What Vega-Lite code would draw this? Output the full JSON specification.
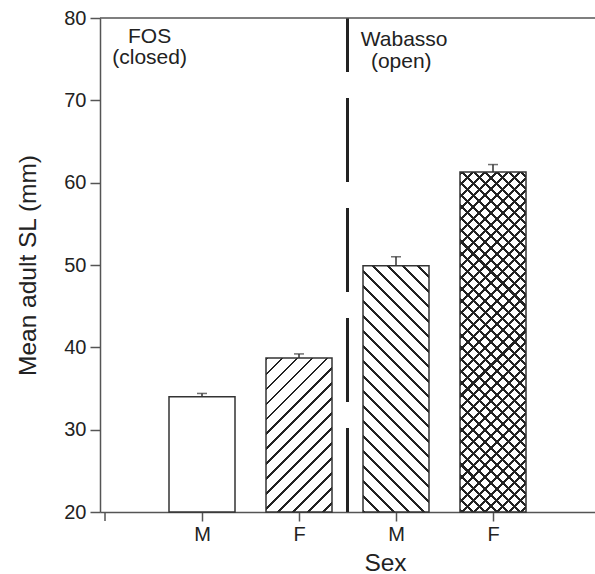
{
  "$schema": "https://vega.github.io/schema/vega-lite/v6.json",
  "width": 495,
  "height": 494,
  "autosize": {"type": "none"},
  "padding": {"left": 100, "top": 18, "right": 0, "bottom": 62},
  "config": {
    "view": {"stroke": null},
    "font": "Liberation Sans",
    "axis": {"titleFontWeight": "normal", "labelColor": "#222", "titleColor": "#222", "grid": false, "domainColor": "#555", "tickColor": "#555", "domainWidth": 1.5, "tickWidth": 1.5}
  },
  "data": {"values": [
    {"site": "FOS", "sex": "M", "idx": 1, "mean": 34.0, "upper": 34.4},
    {"site": "FOS", "sex": "F", "idx": 2, "mean": 38.7, "upper": 39.2},
    {"site": "Wabasso", "sex": "M", "idx": 3, "mean": 49.9, "upper": 51.0},
    {"site": "Wabasso", "sex": "F", "idx": 4, "mean": 61.3, "upper": 62.2}
  ]},
  "layer": [
    {
      "transform": [{"filter": "datum.idx == 1"}],
      "mark": {"type": "bar", "width": 66, "fill": "#fff", "stroke": "#333", "strokeWidth": 1.5},
      "encoding": {
        "x": {"field": "idx", "type": "quantitative", "scale": {"domain": [0, 5], "nice": false, "zero": false},
          "axis": {"values": [1, 2, 3, 4], "labelExpr": "datum.value == 1 || datum.value == 3 ? 'M' : 'F'", "tickSize": 9, "labelFontSize": 20, "labelPadding": 3, "title": "Sex", "titleFontSize": 24.5, "titleX": 285, "titlePadding": 7}},
        "y": {"field": "mean", "type": "quantitative", "scale": {"domain": [20, 80], "nice": false, "zero": false},
          "axis": {"values": [20, 30, 40, 50, 60, 70, 80], "tickSize": 10, "labelFontSize": 20, "labelPadding": 4, "title": "Mean adult SL (mm)", "titleFontSize": 24.5, "titlePadding": 23}},
        "y2": {"datum": 20}
      }
    },
    {
      "transform": [{"filter": "datum.idx == 2"}],
      "mark": {"type": "bar", "width": 66, "stroke": "#333", "strokeWidth": 1.5,
        "fill": {"gradient": "linear", "x1": 0, "y1": 0, "x2": 0.7052, "y2": 1.6451, "stops": [
          {"offset": 0, "color": "#222"}, {"offset": 0.007, "color": "#222"}, {"offset": 0.007, "color": "#fff"}, {"offset": 0.05, "color": "#fff"},
          {"offset": 0.05, "color": "#222"}, {"offset": 0.057, "color": "#222"}, {"offset": 0.057, "color": "#fff"}, {"offset": 0.1, "color": "#fff"},
          {"offset": 0.1, "color": "#222"}, {"offset": 0.107, "color": "#222"}, {"offset": 0.107, "color": "#fff"}, {"offset": 0.15, "color": "#fff"},
          {"offset": 0.15, "color": "#222"}, {"offset": 0.157, "color": "#222"}, {"offset": 0.157, "color": "#fff"}, {"offset": 0.2, "color": "#fff"},
          {"offset": 0.2, "color": "#222"}, {"offset": 0.207, "color": "#222"}, {"offset": 0.207, "color": "#fff"}, {"offset": 0.25, "color": "#fff"},
          {"offset": 0.25, "color": "#222"}, {"offset": 0.257, "color": "#222"}, {"offset": 0.257, "color": "#fff"}, {"offset": 0.3, "color": "#fff"},
          {"offset": 0.3, "color": "#222"}, {"offset": 0.307, "color": "#222"}, {"offset": 0.307, "color": "#fff"}, {"offset": 0.35, "color": "#fff"},
          {"offset": 0.35, "color": "#222"}, {"offset": 0.357, "color": "#222"}, {"offset": 0.357, "color": "#fff"}, {"offset": 0.4, "color": "#fff"},
          {"offset": 0.4, "color": "#222"}, {"offset": 0.407, "color": "#222"}, {"offset": 0.407, "color": "#fff"}, {"offset": 0.45, "color": "#fff"},
          {"offset": 0.45, "color": "#222"}, {"offset": 0.457, "color": "#222"}, {"offset": 0.457, "color": "#fff"}, {"offset": 0.5, "color": "#fff"},
          {"offset": 0.5, "color": "#222"}, {"offset": 0.507, "color": "#222"}, {"offset": 0.507, "color": "#fff"}, {"offset": 0.55, "color": "#fff"},
          {"offset": 0.55, "color": "#222"}, {"offset": 0.557, "color": "#222"}, {"offset": 0.557, "color": "#fff"}, {"offset": 0.6, "color": "#fff"},
          {"offset": 0.6, "color": "#222"}, {"offset": 0.607, "color": "#222"}, {"offset": 0.607, "color": "#fff"}, {"offset": 0.65, "color": "#fff"},
          {"offset": 0.65, "color": "#222"}, {"offset": 0.657, "color": "#222"}, {"offset": 0.657, "color": "#fff"}, {"offset": 0.7, "color": "#fff"},
          {"offset": 0.7, "color": "#222"}, {"offset": 0.707, "color": "#222"}, {"offset": 0.707, "color": "#fff"}, {"offset": 0.75, "color": "#fff"},
          {"offset": 0.75, "color": "#222"}, {"offset": 0.757, "color": "#222"}, {"offset": 0.757, "color": "#fff"}, {"offset": 0.8, "color": "#fff"},
          {"offset": 0.8, "color": "#222"}, {"offset": 0.807, "color": "#222"}, {"offset": 0.807, "color": "#fff"}, {"offset": 0.85, "color": "#fff"},
          {"offset": 0.85, "color": "#222"}, {"offset": 0.857, "color": "#222"}, {"offset": 0.857, "color": "#fff"}, {"offset": 0.9, "color": "#fff"},
          {"offset": 0.9, "color": "#222"}, {"offset": 0.907, "color": "#222"}, {"offset": 0.907, "color": "#fff"}, {"offset": 0.95, "color": "#fff"},
          {"offset": 0.95, "color": "#222"}, {"offset": 0.957, "color": "#222"}, {"offset": 0.957, "color": "#fff"}, {"offset": 1, "color": "#fff"}
        ]}},
      "encoding": {
        "x": {"field": "idx", "type": "quantitative"},
        "y": {"field": "mean", "type": "quantitative"},
        "y2": {"datum": 20}
      }
    },
    {
      "transform": [{"filter": "datum.idx == 3"}],
      "mark": {"type": "bar", "width": 66, "stroke": "#333", "strokeWidth": 1.5,
        "fill": {"gradient": "linear", "x1": 0, "y1": 1, "x2": 0.3808, "y2": -0.4202, "stops": [
          {"offset": 0, "color": "#222"}, {"offset": 0.006, "color": "#222"}, {"offset": 0.006, "color": "#fff"}, {"offset": 0.04, "color": "#fff"},
          {"offset": 0.04, "color": "#222"}, {"offset": 0.046, "color": "#222"}, {"offset": 0.046, "color": "#fff"}, {"offset": 0.08, "color": "#fff"},
          {"offset": 0.08, "color": "#222"}, {"offset": 0.086, "color": "#222"}, {"offset": 0.086, "color": "#fff"}, {"offset": 0.12, "color": "#fff"},
          {"offset": 0.12, "color": "#222"}, {"offset": 0.126, "color": "#222"}, {"offset": 0.126, "color": "#fff"}, {"offset": 0.16, "color": "#fff"},
          {"offset": 0.16, "color": "#222"}, {"offset": 0.166, "color": "#222"}, {"offset": 0.166, "color": "#fff"}, {"offset": 0.2, "color": "#fff"},
          {"offset": 0.2, "color": "#222"}, {"offset": 0.206, "color": "#222"}, {"offset": 0.206, "color": "#fff"}, {"offset": 0.24, "color": "#fff"},
          {"offset": 0.24, "color": "#222"}, {"offset": 0.246, "color": "#222"}, {"offset": 0.246, "color": "#fff"}, {"offset": 0.28, "color": "#fff"},
          {"offset": 0.28, "color": "#222"}, {"offset": 0.286, "color": "#222"}, {"offset": 0.286, "color": "#fff"}, {"offset": 0.32, "color": "#fff"},
          {"offset": 0.32, "color": "#222"}, {"offset": 0.326, "color": "#222"}, {"offset": 0.326, "color": "#fff"}, {"offset": 0.36, "color": "#fff"},
          {"offset": 0.36, "color": "#222"}, {"offset": 0.366, "color": "#222"}, {"offset": 0.366, "color": "#fff"}, {"offset": 0.4, "color": "#fff"},
          {"offset": 0.4, "color": "#222"}, {"offset": 0.406, "color": "#222"}, {"offset": 0.406, "color": "#fff"}, {"offset": 0.44, "color": "#fff"},
          {"offset": 0.44, "color": "#222"}, {"offset": 0.446, "color": "#222"}, {"offset": 0.446, "color": "#fff"}, {"offset": 0.48, "color": "#fff"},
          {"offset": 0.48, "color": "#222"}, {"offset": 0.486, "color": "#222"}, {"offset": 0.486, "color": "#fff"}, {"offset": 0.52, "color": "#fff"},
          {"offset": 0.52, "color": "#222"}, {"offset": 0.526, "color": "#222"}, {"offset": 0.526, "color": "#fff"}, {"offset": 0.56, "color": "#fff"},
          {"offset": 0.56, "color": "#222"}, {"offset": 0.566, "color": "#222"}, {"offset": 0.566, "color": "#fff"}, {"offset": 0.6, "color": "#fff"},
          {"offset": 0.6, "color": "#222"}, {"offset": 0.606, "color": "#222"}, {"offset": 0.606, "color": "#fff"}, {"offset": 0.64, "color": "#fff"},
          {"offset": 0.64, "color": "#222"}, {"offset": 0.646, "color": "#222"}, {"offset": 0.646, "color": "#fff"}, {"offset": 0.68, "color": "#fff"},
          {"offset": 0.68, "color": "#222"}, {"offset": 0.686, "color": "#222"}, {"offset": 0.686, "color": "#fff"}, {"offset": 0.72, "color": "#fff"},
          {"offset": 0.72, "color": "#222"}, {"offset": 0.726, "color": "#222"}, {"offset": 0.726, "color": "#fff"}, {"offset": 0.76, "color": "#fff"},
          {"offset": 0.76, "color": "#222"}, {"offset": 0.766, "color": "#222"}, {"offset": 0.766, "color": "#fff"}, {"offset": 0.8, "color": "#fff"},
          {"offset": 0.8, "color": "#222"}, {"offset": 0.806, "color": "#222"}, {"offset": 0.806, "color": "#fff"}, {"offset": 0.84, "color": "#fff"},
          {"offset": 0.84, "color": "#222"}, {"offset": 0.846, "color": "#222"}, {"offset": 0.846, "color": "#fff"}, {"offset": 0.88, "color": "#fff"},
          {"offset": 0.88, "color": "#222"}, {"offset": 0.886, "color": "#222"}, {"offset": 0.886, "color": "#fff"}, {"offset": 0.92, "color": "#fff"},
          {"offset": 0.92, "color": "#222"}, {"offset": 0.926, "color": "#222"}, {"offset": 0.926, "color": "#fff"}, {"offset": 0.96, "color": "#fff"},
          {"offset": 0.96, "color": "#222"}, {"offset": 0.966, "color": "#222"}, {"offset": 0.966, "color": "#fff"}, {"offset": 1, "color": "#fff"}
        ]}},
      "encoding": {
        "x": {"field": "idx", "type": "quantitative"},
        "y": {"field": "mean", "type": "quantitative"},
        "y2": {"datum": 20}
      }
    },
    {
      "transform": [{"filter": "datum.idx == 4"}],
      "mark": {"type": "bar", "width": 66, "strokeWidth": 0,
        "fill": {"gradient": "linear", "x1": 0, "y1": 0, "x2": 0.2583, "y2": 1.3306, "stops": [
          {"offset": 0, "color": "#222"}, {"offset": 0.0065, "color": "#222"}, {"offset": 0.0065, "color": "#fff"}, {"offset": 0.025, "color": "#fff"},
          {"offset": 0.025, "color": "#222"}, {"offset": 0.0315, "color": "#222"}, {"offset": 0.0315, "color": "#fff"}, {"offset": 0.05, "color": "#fff"},
          {"offset": 0.05, "color": "#222"}, {"offset": 0.0565, "color": "#222"}, {"offset": 0.0565, "color": "#fff"}, {"offset": 0.075, "color": "#fff"},
          {"offset": 0.075, "color": "#222"}, {"offset": 0.0815, "color": "#222"}, {"offset": 0.0815, "color": "#fff"}, {"offset": 0.1, "color": "#fff"},
          {"offset": 0.1, "color": "#222"}, {"offset": 0.1065, "color": "#222"}, {"offset": 0.1065, "color": "#fff"}, {"offset": 0.125, "color": "#fff"},
          {"offset": 0.125, "color": "#222"}, {"offset": 0.1315, "color": "#222"}, {"offset": 0.1315, "color": "#fff"}, {"offset": 0.15, "color": "#fff"},
          {"offset": 0.15, "color": "#222"}, {"offset": 0.1565, "color": "#222"}, {"offset": 0.1565, "color": "#fff"}, {"offset": 0.175, "color": "#fff"},
          {"offset": 0.175, "color": "#222"}, {"offset": 0.1815, "color": "#222"}, {"offset": 0.1815, "color": "#fff"}, {"offset": 0.2, "color": "#fff"},
          {"offset": 0.2, "color": "#222"}, {"offset": 0.2065, "color": "#222"}, {"offset": 0.2065, "color": "#fff"}, {"offset": 0.225, "color": "#fff"},
          {"offset": 0.225, "color": "#222"}, {"offset": 0.2315, "color": "#222"}, {"offset": 0.2315, "color": "#fff"}, {"offset": 0.25, "color": "#fff"},
          {"offset": 0.25, "color": "#222"}, {"offset": 0.2565, "color": "#222"}, {"offset": 0.2565, "color": "#fff"}, {"offset": 0.275, "color": "#fff"},
          {"offset": 0.275, "color": "#222"}, {"offset": 0.2815, "color": "#222"}, {"offset": 0.2815, "color": "#fff"}, {"offset": 0.3, "color": "#fff"},
          {"offset": 0.3, "color": "#222"}, {"offset": 0.3065, "color": "#222"}, {"offset": 0.3065, "color": "#fff"}, {"offset": 0.325, "color": "#fff"},
          {"offset": 0.325, "color": "#222"}, {"offset": 0.3315, "color": "#222"}, {"offset": 0.3315, "color": "#fff"}, {"offset": 0.35, "color": "#fff"},
          {"offset": 0.35, "color": "#222"}, {"offset": 0.3565, "color": "#222"}, {"offset": 0.3565, "color": "#fff"}, {"offset": 0.375, "color": "#fff"},
          {"offset": 0.375, "color": "#222"}, {"offset": 0.3815, "color": "#222"}, {"offset": 0.3815, "color": "#fff"}, {"offset": 0.4, "color": "#fff"},
          {"offset": 0.4, "color": "#222"}, {"offset": 0.4065, "color": "#222"}, {"offset": 0.4065, "color": "#fff"}, {"offset": 0.425, "color": "#fff"},
          {"offset": 0.425, "color": "#222"}, {"offset": 0.4315, "color": "#222"}, {"offset": 0.4315, "color": "#fff"}, {"offset": 0.45, "color": "#fff"},
          {"offset": 0.45, "color": "#222"}, {"offset": 0.4565, "color": "#222"}, {"offset": 0.4565, "color": "#fff"}, {"offset": 0.475, "color": "#fff"},
          {"offset": 0.475, "color": "#222"}, {"offset": 0.4815, "color": "#222"}, {"offset": 0.4815, "color": "#fff"}, {"offset": 0.5, "color": "#fff"},
          {"offset": 0.5, "color": "#222"}, {"offset": 0.5065, "color": "#222"}, {"offset": 0.5065, "color": "#fff"}, {"offset": 0.525, "color": "#fff"},
          {"offset": 0.525, "color": "#222"}, {"offset": 0.5315, "color": "#222"}, {"offset": 0.5315, "color": "#fff"}, {"offset": 0.55, "color": "#fff"},
          {"offset": 0.55, "color": "#222"}, {"offset": 0.5565, "color": "#222"}, {"offset": 0.5565, "color": "#fff"}, {"offset": 0.575, "color": "#fff"},
          {"offset": 0.575, "color": "#222"}, {"offset": 0.5815, "color": "#222"}, {"offset": 0.5815, "color": "#fff"}, {"offset": 0.6, "color": "#fff"},
          {"offset": 0.6, "color": "#222"}, {"offset": 0.6065, "color": "#222"}, {"offset": 0.6065, "color": "#fff"}, {"offset": 0.625, "color": "#fff"},
          {"offset": 0.625, "color": "#222"}, {"offset": 0.6315, "color": "#222"}, {"offset": 0.6315, "color": "#fff"}, {"offset": 0.65, "color": "#fff"},
          {"offset": 0.65, "color": "#222"}, {"offset": 0.6565, "color": "#222"}, {"offset": 0.6565, "color": "#fff"}, {"offset": 0.675, "color": "#fff"},
          {"offset": 0.675, "color": "#222"}, {"offset": 0.6815, "color": "#222"}, {"offset": 0.6815, "color": "#fff"}, {"offset": 0.7, "color": "#fff"},
          {"offset": 0.7, "color": "#222"}, {"offset": 0.7065, "color": "#222"}, {"offset": 0.7065, "color": "#fff"}, {"offset": 0.725, "color": "#fff"},
          {"offset": 0.725, "color": "#222"}, {"offset": 0.7315, "color": "#222"}, {"offset": 0.7315, "color": "#fff"}, {"offset": 0.75, "color": "#fff"},
          {"offset": 0.75, "color": "#222"}, {"offset": 0.7565, "color": "#222"}, {"offset": 0.7565, "color": "#fff"}, {"offset": 0.775, "color": "#fff"},
          {"offset": 0.775, "color": "#222"}, {"offset": 0.7815, "color": "#222"}, {"offset": 0.7815, "color": "#fff"}, {"offset": 0.8, "color": "#fff"},
          {"offset": 0.8, "color": "#222"}, {"offset": 0.8065, "color": "#222"}, {"offset": 0.8065, "color": "#fff"}, {"offset": 0.825, "color": "#fff"},
          {"offset": 0.825, "color": "#222"}, {"offset": 0.8315, "color": "#222"}, {"offset": 0.8315, "color": "#fff"}, {"offset": 0.85, "color": "#fff"},
          {"offset": 0.85, "color": "#222"}, {"offset": 0.8565, "color": "#222"}, {"offset": 0.8565, "color": "#fff"}, {"offset": 0.875, "color": "#fff"},
          {"offset": 0.875, "color": "#222"}, {"offset": 0.8815, "color": "#222"}, {"offset": 0.8815, "color": "#fff"}, {"offset": 0.9, "color": "#fff"},
          {"offset": 0.9, "color": "#222"}, {"offset": 0.9065, "color": "#222"}, {"offset": 0.9065, "color": "#fff"}, {"offset": 0.925, "color": "#fff"},
          {"offset": 0.925, "color": "#222"}, {"offset": 0.9315, "color": "#222"}, {"offset": 0.9315, "color": "#fff"}, {"offset": 0.95, "color": "#fff"},
          {"offset": 0.95, "color": "#222"}, {"offset": 0.9565, "color": "#222"}, {"offset": 0.9565, "color": "#fff"}, {"offset": 0.975, "color": "#fff"},
          {"offset": 0.975, "color": "#222"}, {"offset": 0.9815, "color": "#222"}, {"offset": 0.9815, "color": "#fff"}, {"offset": 1, "color": "#fff"}
        ]}},
      "encoding": {
        "x": {"field": "idx", "type": "quantitative"},
        "y": {"field": "mean", "type": "quantitative"},
        "y2": {"datum": 20}
      }
    },
    {
      "transform": [{"filter": "datum.idx == 4"}],
      "mark": {"type": "bar", "width": 66, "stroke": "#333", "strokeWidth": 1.5,
        "fill": {"gradient": "linear", "x1": 0, "y1": 1, "x2": 0.2583, "y2": -0.3306, "stops": [
          {"offset": 0, "color": "#222"}, {"offset": 0.0065, "color": "#222"}, {"offset": 0.0065, "color": "transparent"}, {"offset": 0.025, "color": "transparent"},
          {"offset": 0.025, "color": "#222"}, {"offset": 0.0315, "color": "#222"}, {"offset": 0.0315, "color": "transparent"}, {"offset": 0.05, "color": "transparent"},
          {"offset": 0.05, "color": "#222"}, {"offset": 0.0565, "color": "#222"}, {"offset": 0.0565, "color": "transparent"}, {"offset": 0.075, "color": "transparent"},
          {"offset": 0.075, "color": "#222"}, {"offset": 0.0815, "color": "#222"}, {"offset": 0.0815, "color": "transparent"}, {"offset": 0.1, "color": "transparent"},
          {"offset": 0.1, "color": "#222"}, {"offset": 0.1065, "color": "#222"}, {"offset": 0.1065, "color": "transparent"}, {"offset": 0.125, "color": "transparent"},
          {"offset": 0.125, "color": "#222"}, {"offset": 0.1315, "color": "#222"}, {"offset": 0.1315, "color": "transparent"}, {"offset": 0.15, "color": "transparent"},
          {"offset": 0.15, "color": "#222"}, {"offset": 0.1565, "color": "#222"}, {"offset": 0.1565, "color": "transparent"}, {"offset": 0.175, "color": "transparent"},
          {"offset": 0.175, "color": "#222"}, {"offset": 0.1815, "color": "#222"}, {"offset": 0.1815, "color": "transparent"}, {"offset": 0.2, "color": "transparent"},
          {"offset": 0.2, "color": "#222"}, {"offset": 0.2065, "color": "#222"}, {"offset": 0.2065, "color": "transparent"}, {"offset": 0.225, "color": "transparent"},
          {"offset": 0.225, "color": "#222"}, {"offset": 0.2315, "color": "#222"}, {"offset": 0.2315, "color": "transparent"}, {"offset": 0.25, "color": "transparent"},
          {"offset": 0.25, "color": "#222"}, {"offset": 0.2565, "color": "#222"}, {"offset": 0.2565, "color": "transparent"}, {"offset": 0.275, "color": "transparent"},
          {"offset": 0.275, "color": "#222"}, {"offset": 0.2815, "color": "#222"}, {"offset": 0.2815, "color": "transparent"}, {"offset": 0.3, "color": "transparent"},
          {"offset": 0.3, "color": "#222"}, {"offset": 0.3065, "color": "#222"}, {"offset": 0.3065, "color": "transparent"}, {"offset": 0.325, "color": "transparent"},
          {"offset": 0.325, "color": "#222"}, {"offset": 0.3315, "color": "#222"}, {"offset": 0.3315, "color": "transparent"}, {"offset": 0.35, "color": "transparent"},
          {"offset": 0.35, "color": "#222"}, {"offset": 0.3565, "color": "#222"}, {"offset": 0.3565, "color": "transparent"}, {"offset": 0.375, "color": "transparent"},
          {"offset": 0.375, "color": "#222"}, {"offset": 0.3815, "color": "#222"}, {"offset": 0.3815, "color": "transparent"}, {"offset": 0.4, "color": "transparent"},
          {"offset": 0.4, "color": "#222"}, {"offset": 0.4065, "color": "#222"}, {"offset": 0.4065, "color": "transparent"}, {"offset": 0.425, "color": "transparent"},
          {"offset": 0.425, "color": "#222"}, {"offset": 0.4315, "color": "#222"}, {"offset": 0.4315, "color": "transparent"}, {"offset": 0.45, "color": "transparent"},
          {"offset": 0.45, "color": "#222"}, {"offset": 0.4565, "color": "#222"}, {"offset": 0.4565, "color": "transparent"}, {"offset": 0.475, "color": "transparent"},
          {"offset": 0.475, "color": "#222"}, {"offset": 0.4815, "color": "#222"}, {"offset": 0.4815, "color": "transparent"}, {"offset": 0.5, "color": "transparent"},
          {"offset": 0.5, "color": "#222"}, {"offset": 0.5065, "color": "#222"}, {"offset": 0.5065, "color": "transparent"}, {"offset": 0.525, "color": "transparent"},
          {"offset": 0.525, "color": "#222"}, {"offset": 0.5315, "color": "#222"}, {"offset": 0.5315, "color": "transparent"}, {"offset": 0.55, "color": "transparent"},
          {"offset": 0.55, "color": "#222"}, {"offset": 0.5565, "color": "#222"}, {"offset": 0.5565, "color": "transparent"}, {"offset": 0.575, "color": "transparent"},
          {"offset": 0.575, "color": "#222"}, {"offset": 0.5815, "color": "#222"}, {"offset": 0.5815, "color": "transparent"}, {"offset": 0.6, "color": "transparent"},
          {"offset": 0.6, "color": "#222"}, {"offset": 0.6065, "color": "#222"}, {"offset": 0.6065, "color": "transparent"}, {"offset": 0.625, "color": "transparent"},
          {"offset": 0.625, "color": "#222"}, {"offset": 0.6315, "color": "#222"}, {"offset": 0.6315, "color": "transparent"}, {"offset": 0.65, "color": "transparent"},
          {"offset": 0.65, "color": "#222"}, {"offset": 0.6565, "color": "#222"}, {"offset": 0.6565, "color": "transparent"}, {"offset": 0.675, "color": "transparent"},
          {"offset": 0.675, "color": "#222"}, {"offset": 0.6815, "color": "#222"}, {"offset": 0.6815, "color": "transparent"}, {"offset": 0.7, "color": "transparent"},
          {"offset": 0.7, "color": "#222"}, {"offset": 0.7065, "color": "#222"}, {"offset": 0.7065, "color": "transparent"}, {"offset": 0.725, "color": "transparent"},
          {"offset": 0.725, "color": "#222"}, {"offset": 0.7315, "color": "#222"}, {"offset": 0.7315, "color": "transparent"}, {"offset": 0.75, "color": "transparent"},
          {"offset": 0.75, "color": "#222"}, {"offset": 0.7565, "color": "#222"}, {"offset": 0.7565, "color": "transparent"}, {"offset": 0.775, "color": "transparent"},
          {"offset": 0.775, "color": "#222"}, {"offset": 0.7815, "color": "#222"}, {"offset": 0.7815, "color": "transparent"}, {"offset": 0.8, "color": "transparent"},
          {"offset": 0.8, "color": "#222"}, {"offset": 0.8065, "color": "#222"}, {"offset": 0.8065, "color": "transparent"}, {"offset": 0.825, "color": "transparent"},
          {"offset": 0.825, "color": "#222"}, {"offset": 0.8315, "color": "#222"}, {"offset": 0.8315, "color": "transparent"}, {"offset": 0.85, "color": "transparent"},
          {"offset": 0.85, "color": "#222"}, {"offset": 0.8565, "color": "#222"}, {"offset": 0.8565, "color": "transparent"}, {"offset": 0.875, "color": "transparent"},
          {"offset": 0.875, "color": "#222"}, {"offset": 0.8815, "color": "#222"}, {"offset": 0.8815, "color": "transparent"}, {"offset": 0.9, "color": "transparent"},
          {"offset": 0.9, "color": "#222"}, {"offset": 0.9065, "color": "#222"}, {"offset": 0.9065, "color": "transparent"}, {"offset": 0.925, "color": "transparent"},
          {"offset": 0.925, "color": "#222"}, {"offset": 0.9315, "color": "#222"}, {"offset": 0.9315, "color": "transparent"}, {"offset": 0.95, "color": "transparent"},
          {"offset": 0.95, "color": "#222"}, {"offset": 0.9565, "color": "#222"}, {"offset": 0.9565, "color": "transparent"}, {"offset": 0.975, "color": "transparent"},
          {"offset": 0.975, "color": "#222"}, {"offset": 0.9815, "color": "#222"}, {"offset": 0.9815, "color": "transparent"}, {"offset": 1, "color": "transparent"}
        ]}},
      "encoding": {
        "x": {"field": "idx", "type": "quantitative"},
        "y": {"field": "mean", "type": "quantitative"},
        "y2": {"datum": 20}
      }
    },
    {
      "mark": {"type": "rule", "color": "#333", "strokeWidth": 1.5},
      "encoding": {
        "x": {"field": "idx", "type": "quantitative"},
        "y": {"field": "mean", "type": "quantitative"},
        "y2": {"field": "upper"}
      }
    },
    {
      "mark": {"type": "tick", "orient": "horizontal", "color": "#333", "size": 10, "thickness": 1.5},
      "encoding": {
        "x": {"field": "idx", "type": "quantitative"},
        "y": {"field": "upper", "type": "quantitative"}
      }
    },
    {
      "data": {"values": [{}]},
      "mark": {"type": "rule", "color": "#222", "strokeWidth": 3, "strokeDash": [84, 26]},
      "encoding": {"x": {"datum": 2.5}, "y": {"datum": 20}, "y2": {"datum": 80}}
    },
    {
      "data": {"values": [{}]},
      "mark": {"type": "rule", "color": "#555", "strokeWidth": 1.5},
      "encoding": {"y": {"datum": 80}}
    },
    {
      "data": {"values": [{}]},
      "mark": {"type": "rule", "color": "#555", "strokeWidth": 1.5},
      "encoding": {"x": {"datum": 0}, "y": {"datum": 20}, "y2": {"datum": 18.9}}
    },
    {
      "data": {"values": [{"label": "FOS"}]},
      "mark": {"type": "text", "fontSize": 21, "color": "#222", "align": "center", "baseline": "middle"},
      "encoding": {"text": {"field": "label"}, "x": {"datum": 0.46}, "y": {"datum": 77.75}}
    },
    {
      "data": {"values": [{"label": "(closed)"}]},
      "mark": {"type": "text", "fontSize": 21, "color": "#222", "align": "center", "baseline": "middle"},
      "encoding": {"text": {"field": "label"}, "x": {"datum": 0.46}, "y": {"datum": 75.1}}
    },
    {
      "data": {"values": [{"label": "Wabasso"}]},
      "mark": {"type": "text", "fontSize": 21, "color": "#222", "align": "center", "baseline": "middle"},
      "encoding": {"text": {"field": "label"}, "x": {"datum": 3.084}, "y": {"datum": 77.33}}
    },
    {
      "data": {"values": [{"label": "(open)"}]},
      "mark": {"type": "text", "fontSize": 21, "color": "#222", "align": "center", "baseline": "middle"},
      "encoding": {"text": {"field": "label"}, "x": {"datum": 3.054}, "y": {"datum": 74.7}}
    }
  ]
}
